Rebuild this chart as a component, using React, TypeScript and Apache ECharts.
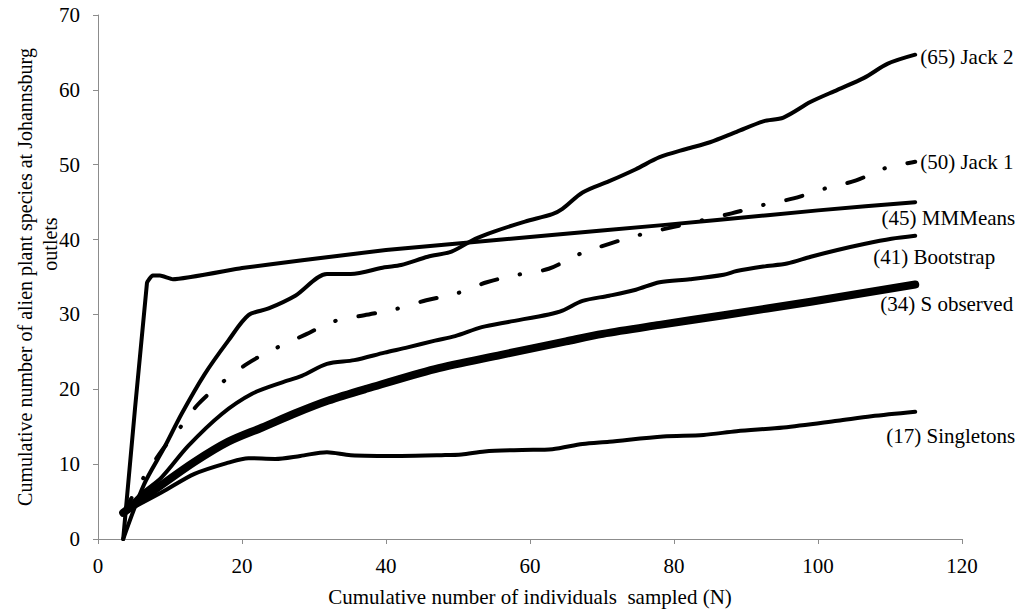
import React, { useEffect, useRef } from "react";
import * as echarts from "echarts";

// ---- data ----
const jack2X = [3.5, 6.4, 9.2, 11.6, 14.8, 18.1, 20.9, 23.7, 27.4, 31.8, 35.1, 39.8, 42.1, 45.8, 49.1, 52.4, 55.1, 59.3, 63.1, 64.5, 67.3, 71.0, 74.7, 78.0, 81.7, 85.0, 88.7, 92.4, 95.2, 99.0, 102.7, 106.4, 109.7, 113.5];
const jack2Y = [0, 7.3, 12.2, 16.7, 22.0, 26.5, 29.9, 30.8, 32.5, 35.4, 35.4, 36.3, 36.6, 37.7, 38.4, 40.1, 41.1, 42.4, 43.4, 44.1, 46.3, 47.8, 49.4, 51.0, 52.1, 53.0, 54.4, 55.8, 56.3, 58.4, 60.0, 61.6, 63.5, 64.7];

const jack1X = [3.5, 6.2, 9.0, 11.1, 13.9, 17.1, 20.7, 24.5, 28.8, 32.5, 37.0, 41.3, 45.6, 49.8, 54.0, 58.3, 62.6, 66.7, 70.9, 75.1, 80.0, 84.0, 88.0, 92.3, 96.6, 100.9, 105.3, 109.2, 113.5];
const jack1Y = [3.5, 8.0, 12.0, 14.5, 18.0, 20.8, 23.4, 25.4, 27.3, 29.0, 29.9, 30.7, 31.9, 32.8, 34.3, 35.3, 36.1, 38.0, 39.4, 40.6, 41.7, 42.6, 43.5, 44.6, 45.5, 46.8, 47.9, 49.5, 50.4];

const mmMeansX = [3.5, 6.8, 7.6, 8.6, 10.4, 20, 28.1, 40, 56.1, 70, 86, 100, 113.5];
const mmMeansY = [0, 34.2, 35.2, 35.2, 34.7, 36.2, 37.2, 38.6, 40.0, 41.2, 42.6, 43.9, 45.0];

const bootstrapX = [3.5, 6.0, 8.8, 12.5, 17.2, 21.4, 25.5, 28.3, 31.8, 35.6, 39.8, 43.0, 46.8, 49.6, 53.3, 57.0, 62.6, 64.5, 67.3, 71.0, 74.7, 78.0, 82.2, 86.9, 88.7, 92.4, 95.7, 99.0, 102.7, 106.4, 110.2, 113.5];
const bootstrapY = [3.5, 6.0, 8.2, 12.4, 16.7, 19.4, 20.9, 21.8, 23.4, 23.9, 24.9, 25.6, 26.5, 27.1, 28.3, 29.0, 30.0, 30.5, 31.8, 32.5, 33.3, 34.3, 34.7, 35.3, 35.8, 36.4, 36.8, 37.7, 38.6, 39.4, 40.1, 40.5];

const sObsX = [3.5, 8.8, 13.4, 18.1, 22.8, 27.4, 32.0, 37.4, 46.8, 56.0, 65.0, 70.1, 78.0, 86.9, 99.0, 113.5];
const sObsY = [3.5, 7.2, 10.3, 13.0, 14.9, 16.8, 18.5, 20.1, 22.7, 24.6, 26.4, 27.4, 28.6, 29.9, 31.7, 34.0];

const singletonsX = [3.5, 8.8, 13.4, 18.1, 20.9, 24.6, 28.1, 31.8, 35.1, 42.1, 47.7, 50.5, 53.7, 58.9, 63.1, 67.3, 71.0, 78.5, 84.1, 88.7, 95.2, 102.7, 107.4, 113.5];
const singletonsY = [3.5, 6.2, 8.7, 10.2, 10.8, 10.7, 11.1, 11.6, 11.2, 11.1, 11.2, 11.3, 11.7, 11.9, 12.0, 12.7, 13.0, 13.7, 13.9, 14.4, 14.9, 15.8, 16.4, 17.0];

const seriesNames = ["Jack 2", "Jack 1", "MMMeans", "Bootstrap", "S observed", "Singletons"];
const seriesTotals = [65, 50, 45, 41, 34, 17];

const xTicks = [0, 20, 40, 60, 80, 100, 120];
const yTicks = [0, 10, 20, 30, 40, 50, 60, 70];

const xTitle = "Cumulative number of individuals  sampled (N)";
const yTitleLine1 = "Cumulative number of alien plant species at Johannsburg";
const yTitleLine2 = "outlets";

const zip = (xs: number[], ys: number[]) => xs.map((x, i) => [x, ys[i]]);

const FONT = "Liberation Serif";

export default function App() {
  const ref = useRef<HTMLDivElement>(null);

  useEffect(() => {
    if (!ref.current) return;
    const chart = echarts.init(ref.current, null, { renderer: "svg" });

    const datasets = [
      zip(jack2X, jack2Y),
      zip(jack1X, jack1Y),
      zip(mmMeansX, mmMeansY),
      zip(bootstrapX, bootstrapY),
      zip(sObsX, sObsY),
      zip(singletonsX, singletonsY),
    ];

    const styles: any[] = [
      { width: 4, type: "solid", smooth: 0.3 },
      { width: 4, type: [17, 23, 0.5, 23], smooth: 0.3 },
      { width: 4, type: "solid", smooth: 0.15 },
      { width: 4, type: "solid", smooth: 0.3 },
      { width: 8, type: "solid", smooth: 0.3 },
      { width: 4, type: "solid", smooth: 0.3 },
    ];

    const axisLineStyle = { color: "#8c8c8c", width: 1 };

    chart.setOption({
      animation: false,
      backgroundColor: "#ffffff",
      textStyle: { fontFamily: FONT },
      grid: { left: 98, top: 15, width: 864, height: 524, containLabel: false },
      xAxis: {
        type: "value",
        min: 0,
        max: 120,
        interval: 20,
        name: xTitle,
        nameLocation: "middle",
        nameGap: 47,
        nameTextStyle: { fontFamily: FONT, fontSize: 21, color: "#000" },
        axisLine: { show: true, lineStyle: axisLineStyle },
        axisTick: { show: true, inside: false, length: 5, lineStyle: axisLineStyle },
        axisLabel: {
          fontFamily: FONT,
          fontSize: 21,
          color: "#000",
          margin: 16,
          formatter: (v: number) => (xTicks.includes(v) ? String(v) : ""),
        },
        splitLine: { show: false },
      },
      yAxis: {
        type: "value",
        min: 0,
        max: 70,
        interval: 10,
        name: yTitleLine1,
        nameLocation: "middle",
        nameRotate: 90,
        nameGap: 63,
        nameTextStyle: { fontFamily: FONT, fontSize: 20, color: "#000" },
        axisLine: { show: true, lineStyle: axisLineStyle },
        axisTick: { show: true, inside: false, length: 5, lineStyle: axisLineStyle },
        axisLabel: {
          fontFamily: FONT,
          fontSize: 21,
          color: "#000",
          margin: 18,
          formatter: (v: number) => (yTicks.includes(v) ? String(v) : ""),
        },
        splitLine: { show: false },
      },
      series: datasets.map((d, i) => ({
        type: "line",
        name: seriesNames[i],
        data: d,
        showSymbol: false,
        symbol: "none",
        smooth: styles[i].smooth,
        lineStyle: {
          color: "#000",
          width: styles[i].width,
          type: styles[i].type,
          cap: "round",
          join: "round",
        },
        z: 2,
      })),
    });

    // end-of-line labels positioned from library scale
    const placement = [
      { dx: 5, dy: 2, align: "left" },
      { dx: 5, dy: 0, align: "left" },
      { dx: 100, dy: 16, align: "right" },
      { dx: 80, dy: 21, align: "right" },
      { dx: 98, dy: 20, align: "right" },
      { dx: 100, dy: 24, align: "right" },
    ];
    const graphics: any[] = datasets.map((d, i) => {
      const last = d[d.length - 1];
      const [px, py] = chart.convertToPixel({ gridIndex: 0 }, last) as number[];
      return {
        type: "text",
        x: px + placement[i].dx,
        y: py + placement[i].dy,
        style: {
          text: `(${seriesTotals[i]}) ${seriesNames[i]}`,
          font: `21px "${FONT}"`,
          fontFamily: FONT,
          fontSize: 21,
          fill: "#000",
          align: placement[i].align,
          verticalAlign: "middle",
        },
      };
    });
    graphics.push({
      type: "text",
      x: 50,
      y: 244,
      rotation: Math.PI / 2,
      style: {
        text: yTitleLine2,
        font: `20px "${FONT}"`,
        fontFamily: FONT,
        fontSize: 20,
        fill: "#000",
        align: "center",
        verticalAlign: "middle",
      },
    });
    chart.setOption({ graphic: graphics });

    return () => chart.dispose();
  }, []);

  return (
    <div
      ref={ref}
      style={{ position: "fixed", left: 0, top: 0, width: 1017, height: 614, background: "#fff" }}
    />
  );
}
